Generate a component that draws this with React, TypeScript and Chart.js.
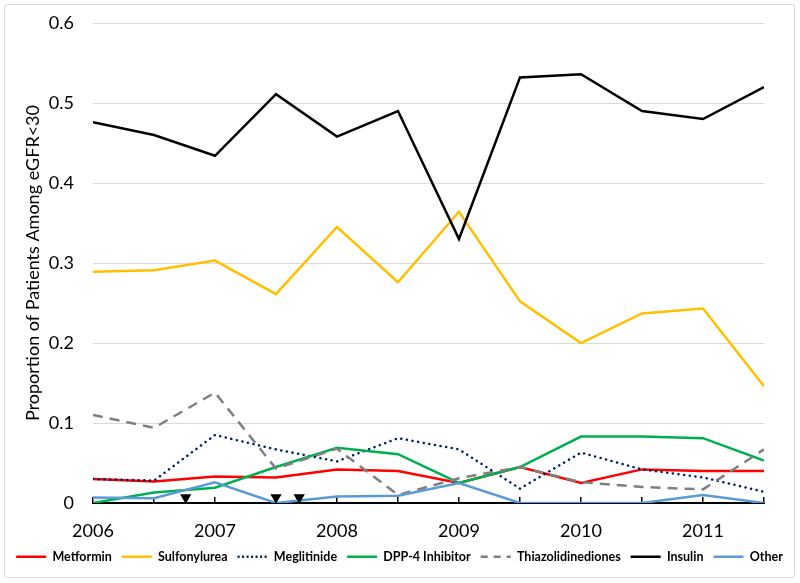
import React, { useEffect, useRef } from "react";
import { Chart, registerables } from "chart.js";

Chart.register(...registerables);

const periods = [2006, 2006.5, 2007, 2007.5, 2008, 2008.5, 2009, 2009.5, 2010, 2010.5, 2011, 2011.5];

const metformin = [0.030, 0.027, 0.033, 0.032, 0.042, 0.040, 0.025, 0.045, 0.025, 0.042, 0.040, 0.040];
const sulfonylurea = [0.289, 0.291, 0.303, 0.261, 0.345, 0.276, 0.364, 0.252, 0.200, 0.237, 0.243, 0.146];
const meglitinide = [0.030, 0.028, 0.085, 0.067, 0.052, 0.081, 0.067, 0.018, 0.063, 0.042, 0.032, 0.014];
const dpp4 = [0.000, 0.013, 0.019, 0.045, 0.069, 0.061, 0.025, 0.045, 0.083, 0.083, 0.081, 0.053];
const thiazolidinediones = [0.110, 0.094, 0.138, 0.043, 0.068, 0.010, 0.031, 0.045, 0.026, 0.020, 0.017, 0.067];
const insulin = [0.476, 0.460, 0.434, 0.511, 0.458, 0.490, 0.330, 0.532, 0.536, 0.490, 0.480, 0.520];
const other = [0.007, 0.006, 0.026, 0.000, 0.008, 0.009, 0.025, 0.000, 0.000, 0.000, 0.010, 0.000];

const markerX = [2006.76, 2007.5, 2007.69];
const markerY = [0.007, 0.007, 0.007];

const yTicks = [0, 0.1, 0.2, 0.3, 0.4, 0.5, 0.6];
const yTitle = "Proportion of Patients Among eGFR<30";

const seriesNames = ["Metformin", "Sulfonylurea", "Meglitinide", "DPP-4 Inhibitor", "Thiazolidinediones", "Insulin", "Other"];

export default function App() {
  const ref = useRef<HTMLCanvasElement | null>(null);

  useEffect(() => {
    if (!ref.current) return;
    const pts = (vals: number[]) => vals.map((v, i) => ({ x: periods[i], y: v }));
    const series = [metformin, sulfonylurea, meglitinide, dpp4, thiazolidinediones, insulin, other];
    const colors = ["#ff0000", "#ffc000", "#002060", "#00b050", "#808080", "#000000", "#5b9bd5"];
    const dashes: number[][] = [[], [], [0.1, 5.6], [], [10, 7], [], []];
    const caps = ["butt", "butt", "round", "butt", "butt", "butt", "butt"];
    const legendDashes: number[][] = [[], [], [2, 2.5], [], [7, 6], [], []];
    const lineSets = series.map((vals, i) => ({
      type: "line" as const,
      label: seriesNames[i],
      data: pts(vals),
      borderColor: colors[i],
      backgroundColor: colors[i],
      borderWidth: 2.5,
      borderDash: dashes[i],
      borderCapStyle: caps[i],
      pointRadius: 0,
      pointStyle: "line" as const,
      tension: 0,
      fill: false,
      order: 10 - i,
    }));
    const markerSet = {
      type: "scatter" as const,
      label: "marker",
      data: markerX.map((x, i) => ({ x, y: markerY[i] })),
      pointStyle: "triangle" as const,
      rotation: 180,
      pointRadius: 6.5,
      backgroundColor: "#000",
      borderColor: "#000",
      borderWidth: 0,
      showLine: false,
      order: 0,
    };
    const font = "Lato, 'Open Sans', sans-serif";
    const chart = new Chart(ref.current, {
      type: "line",
      data: { datasets: [...lineSets, markerSet] as any },
      options: {
        animation: false,
        responsive: false,
        maintainAspectRatio: false,
        layout: { padding: { left: 0, right: 0, top: 18, bottom: 4 } },
        plugins: {
          tooltip: { enabled: false },
          legend: {
            position: "bottom",
            labels: {
              usePointStyle: true,
              pointStyleWidth: 30,
              boxHeight: 8,
              padding: 10,
              color: "#000",
              font: { family: font, size: 12.5, weight: "bold" },
              filter: (item: any) => item.text !== "marker",
              sort: (a: any, b: any) => a.datasetIndex - b.datasetIndex,
              generateLabels: (ch: any) => {
                const items = Chart.defaults.plugins.legend.labels.generateLabels(ch);
                return items.map((it: any) => {
                  const idx = it.datasetIndex;
                  return {
                    ...it,
                    pointStyle: "line",
                    strokeStyle: colors[idx] || "#000",
                    fillStyle: colors[idx] || "#000",
                    lineWidth: 2.5,
                    lineDash: legendDashes[idx] || [],
                    lineCap: "butt",
                  };
                });
              },
            },
          },
        },
        scales: {
          x: {
            type: "linear",
            min: periods[0],
            max: periods[periods.length - 1],
            border: { display: true, color: "#000", width: 2 },
            grid: { drawOnChartArea: false, drawTicks: true, tickLength: -6, color: "#000", lineWidth: 1.5 },
            ticks: {
              stepSize: 0.5,
              autoSkip: false,
              maxRotation: 0,
              padding: 23,
              color: "#000",
              font: { family: font, size: 18 },
              callback: (v: any) => (Number.isInteger(v) ? String(v) : ""),
            },
            afterFit: (s: any) => {
              s.height = 37.5;
            },
          },
          y: {
            min: yTicks[0],
            max: yTicks[yTicks.length - 1],
            border: { display: false },
            grid: { color: "#d9d9d9", drawTicks: false, lineWidth: 1 },
            title: { display: true, text: yTitle, color: "#000", font: { family: font, size: 18 }, padding: { top: 17, bottom: 0 } },
            ticks: {
              stepSize: 0.1,
              padding: 19,
              color: "#000",
              font: { family: font, size: 18 },
            },
            afterFit: (s: any) => {
              s.width = 88;
              s.paddingTop = 0;
              s.paddingBottom = 0;
            },
          },
          yRight: {
            position: "right",
            display: true,
            border: { display: false },
            grid: { display: false, drawTicks: false },
            ticks: { display: false },
            afterFit: (s: any) => {
              s.width = 30;
              s.paddingTop = 0;
              s.paddingBottom = 0;
            },
          },
        },
      },
    });
    return () => chart.destroy();
  }, []);

  return (
    <div
      style={{
        position: "absolute",
        left: 4,
        top: 4,
        width: 791,
        height: 574,
        border: "1px solid #d9d9d9",
        borderRadius: 3,
        boxSizing: "border-box",
        background: "#fff",
      }}
    >
      <canvas ref={ref} width={789} height={572} style={{ display: "block" }} />
    </div>
  );
}
